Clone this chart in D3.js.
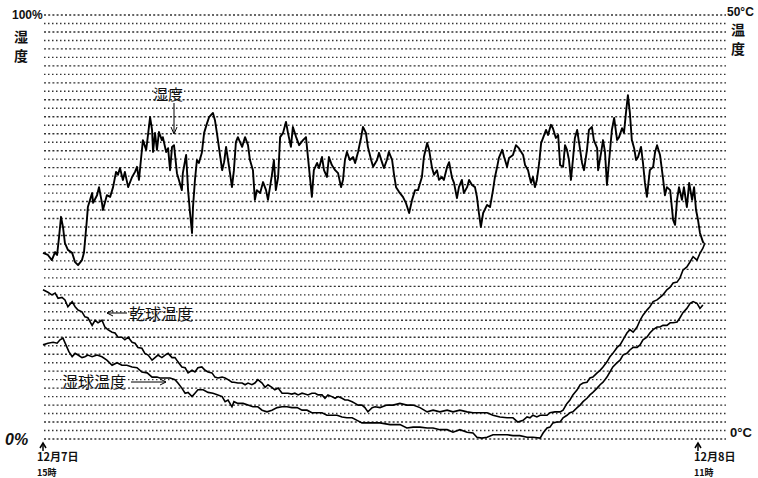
<!DOCTYPE html>
<html>
<head>
<meta charset="utf-8">
<script src="https://cdn.jsdelivr.net/npm/d3@7"></script>
<style>
  body { margin: 0; background: #fff; }
  text { fill: #111; }
  .jp { font-family: "Noto Sans CJK JP", sans-serif; }
  .num { font-family: "Liberation Sans Narrow", "Liberation Sans", sans-serif; font-weight: bold; }
</style>
</head>
<body>
<div id="chart"></div>
<script>
// hours since start (left arrow) and relative humidity in %
const humidity = [
  [0.00,43.9],[0.15,43.4],[0.27,42.2],[0.37,44.1],[0.43,43.4],[0.49,47.6],[0.55,52.4],[0.61,50.0],[0.67,46.2],[0.76,44.6],
  [0.89,43.9],[0.98,41.7],[1.07,41.0],[1.19,42.2],[1.25,43.9],[1.34,51.7],[1.37,54.7],[1.50,58.0],[1.53,55.7],[1.65,57.5],
  [1.71,59.4],[1.80,55.7],[1.83,54.0],[1.95,57.5],[2.05,57.1],[2.14,59.4],[2.23,63.0],[2.29,62.3],[2.35,63.9],[2.44,61.1],
  [2.50,63.0],[2.60,59.4],[2.72,61.8],[2.81,63.0],[2.87,64.2],[2.93,61.1],[2.99,65.8],[3.05,70.5],[3.15,68.2],[3.18,70.0],
  [3.27,75.9],[3.33,72.9],[3.36,67.7],[3.42,72.2],[3.48,68.2],[3.54,72.4],[3.63,70.5],[3.66,71.2],[3.76,67.7],[3.82,68.6],
  [3.88,63.4],[3.94,68.9],[4.00,69.3],[4.09,62.7],[4.15,61.1],[4.24,58.7],[4.27,62.7],[4.37,67.0],[4.43,58.7],[4.49,53.3],
  [4.55,48.6],[4.58,54.7],[4.64,61.1],[4.70,65.8],[4.76,65.1],[4.85,67.5],[4.92,72.2],[5.01,74.5],[5.07,75.9],[5.19,76.9],
  [5.25,75.2],[5.31,72.2],[5.37,68.9],[5.47,63.4],[5.53,65.3],[5.59,68.9],[5.65,65.8],[5.71,62.7],[5.77,59.4],[5.83,63.4],
  [5.89,70.0],[5.95,71.2],[6.08,68.9],[6.17,71.2],[6.26,69.3],[6.32,65.8],[6.41,63.4],[6.47,56.4],[6.53,58.7],[6.63,58.0],
  [6.72,60.6],[6.81,58.7],[6.87,56.4],[6.99,62.3],[7.05,65.8],[7.11,58.7],[7.18,61.8],[7.24,71.2],[7.33,72.2],[7.42,74.8],
  [7.48,72.2],[7.57,68.9],[7.63,73.6],[7.73,71.2],[7.82,69.3],[7.94,70.5],[8.03,71.2],[8.09,66.5],[8.15,61.8],[8.21,57.1],
  [8.27,63.4],[8.37,65.1],[8.43,63.9],[8.52,66.5],[8.58,63.4],[8.67,61.8],[8.73,66.5],[8.82,64.6],[8.92,63.4],[9.01,62.7],
  [9.10,59.4],[9.16,61.1],[9.22,65.8],[9.28,67.7],[9.37,65.8],[9.47,66.5],[9.53,65.1],[9.62,67.7],[9.71,71.0],[9.77,73.6],
  [9.86,72.2],[9.92,68.9],[10.02,65.8],[10.08,64.2],[10.20,65.8],[10.26,67.5],[10.35,65.3],[10.41,63.9],[10.50,65.8],[10.56,67.7],
  [10.66,65.8],[10.72,62.3],[10.78,59.4],[10.87,58.3],[10.99,57.1],[11.08,55.7],[11.18,53.3],[11.27,56.4],[11.36,58.7],[11.45,58.7],
  [11.57,61.8],[11.63,66.5],[11.73,69.8],[11.79,68.2],[11.88,63.9],[11.94,62.3],[12.03,63.4],[12.09,61.1],[12.18,61.8],[12.24,61.1],
  [12.34,64.2],[12.40,65.3],[12.49,61.6],[12.55,60.4],[12.64,56.8],[12.70,59.4],[12.79,61.1],[12.85,58.0],[12.95,59.4],[13.01,61.1],
  [13.10,59.9],[13.19,59.4],[13.25,57.1],[13.31,53.3],[13.37,50.0],[13.44,53.3],[13.56,55.2],[13.65,54.7],[13.74,58.7],[13.80,61.8],
  [13.86,63.9],[13.92,66.3],[14.02,68.2],[14.08,66.5],[14.17,64.2],[14.23,66.3],[14.35,67.0],[14.44,69.3],[14.53,68.6],[14.66,67.0],
  [14.72,64.6],[14.81,63.4],[14.90,60.4],[14.96,61.8],[15.02,59.4],[15.08,61.1],[15.15,65.1],[15.21,69.8],[15.27,71.0],[15.36,72.9],
  [15.42,71.7],[15.51,74.1],[15.57,73.3],[15.66,71.0],[15.73,71.7],[15.79,64.6],[15.88,64.2],[15.94,69.3],[16.00,68.2],[16.06,65.8],
  [16.12,61.1],[16.18,65.8],[16.24,71.0],[16.31,72.9],[16.37,69.8],[16.46,65.1],[16.52,63.4],[16.61,68.2],[16.67,72.9],[16.76,73.6],
  [16.82,70.5],[16.92,68.6],[16.95,63.4],[17.04,67.5],[17.10,70.5],[17.16,67.7],[17.22,59.9],[17.28,65.1],[17.37,72.9],[17.44,75.7],
  [17.53,70.5],[17.59,71.2],[17.68,73.3],[17.74,72.2],[17.80,76.9],[17.86,81.1],[17.92,76.9],[17.98,70.5],[18.05,68.6],[18.11,65.8],
  [18.17,66.5],[18.26,68.9],[18.32,65.1],[18.38,60.4],[18.44,57.1],[18.53,63.4],[18.63,64.2],[18.69,67.7],[18.75,69.3],[18.84,67.0],
  [18.93,61.6],[18.99,57.5],[19.05,59.4],[19.15,58.7],[19.24,51.7],[19.30,50.5],[19.36,56.4],[19.42,59.4],[19.51,56.4],[19.57,59.4],
  [19.66,54.7],[19.73,60.4],[19.82,56.4],[19.88,59.4],[19.94,54.0],[20.00,51.7],[20.06,48.6],[20.15,46.5],[20.18,46.2]
];

// dry bulb temperature, deg C
const dryBulb = [
  [0.00,17.6],[0.15,17.3],[0.27,17.0],[0.37,17.2],[0.46,16.6],[0.58,16.7],[0.67,16.4],[0.76,15.6],[0.89,16.2],[0.98,15.6],
  [1.07,15.2],[1.19,15.0],[1.28,14.4],[1.37,14.3],[1.50,13.4],[1.59,14.0],[1.68,13.7],[1.80,14.0],[1.89,13.2],[1.98,12.9],
  [2.11,12.6],[2.20,12.5],[2.29,12.0],[2.41,12.0],[2.50,11.7],[2.60,12.0],[2.72,11.4],[2.81,11.3],[2.90,10.8],[3.02,10.7],
  [3.11,10.1],[3.21,9.9],[3.33,9.3],[3.42,9.6],[3.51,9.9],[3.63,9.6],[3.73,9.9],[3.82,10.1],[3.94,9.6],[4.03,9.6],
  [4.12,9.1],[4.24,8.5],[4.34,8.4],[4.43,7.8],[4.55,8.1],[4.64,7.9],[4.73,8.4],[4.85,8.5],[4.95,8.1],[5.04,7.9],
  [5.16,7.8],[5.25,7.3],[5.34,7.2],[5.47,7.3],[5.56,7.2],[5.65,7.0],[5.77,6.7],[5.83,6.7],[5.95,6.6],[6.08,6.6],
  [6.17,6.4],[6.26,6.6],[6.38,6.4],[6.47,6.6],[6.56,7.0],[6.69,6.6],[6.78,6.1],[6.87,6.4],[6.99,6.1],[7.08,5.8],
  [7.18,6.0],[7.30,5.4],[7.39,5.4],[7.48,5.4],[7.60,5.3],[7.69,5.4],[7.79,5.2],[7.91,5.4],[8.00,5.3],[8.09,5.2],
  [8.21,5.4],[8.31,5.4],[8.40,5.2],[8.52,5.2],[8.61,4.8],[8.70,5.2],[8.82,5.0],[8.92,4.8],[9.01,5.0],[9.13,4.8],
  [9.22,4.6],[9.31,4.6],[9.44,4.4],[9.53,4.2],[9.62,4.0],[9.74,4.0],[9.83,3.7],[9.92,3.2],[10.05,3.7],[10.14,3.8],
  [10.29,3.7],[10.50,4.0],[10.69,4.0],[10.90,4.2],[11.11,4.0],[11.30,4.0],[11.51,3.7],[11.73,3.2],[11.91,3.4],[12.12,3.2],
  [12.34,3.4],[12.52,3.2],[12.73,3.4],[12.95,3.2],[13.13,3.1],[13.34,3.1],[13.56,3.1],[13.74,2.8],[13.95,2.6],[14.17,2.5],
  [14.35,2.5],[14.50,2.0],[14.66,2.2],[14.78,2.6],[14.87,2.5],[14.96,2.8],[15.08,2.6],[15.18,2.8],[15.27,2.8],[15.39,2.8],
  [15.48,3.1],[15.63,3.2],[15.79,3.2],[15.88,3.4],[16.00,4.2],[16.09,4.6],[16.18,5.2],[16.31,5.8],[16.40,6.4],[16.49,6.6],
  [16.61,6.7],[16.70,7.2],[16.79,7.3],[16.92,7.8],[17.01,8.1],[17.10,8.5],[17.22,9.1],[17.31,9.7],[17.40,10.1],[17.53,10.8],
  [17.62,11.1],[17.71,11.7],[17.83,12.5],[17.92,12.9],[18.02,12.6],[18.14,13.2],[18.23,14.0],[18.32,14.6],[18.44,15.2],[18.53,15.6],
  [18.63,16.2],[18.75,16.4],[18.84,16.7],[18.93,17.0],[19.05,17.6],[19.15,17.9],[19.24,18.4],[19.36,18.5],[19.45,19.0],[19.54,19.9],
  [19.66,20.3],[19.76,20.9],[19.85,21.5],[19.97,21.1],[20.06,21.9],[20.15,22.5],[20.21,23.1]
];

// wet bulb temperature, deg C
const wetBulb = [
  [0.00,11.1],[0.15,11.3],[0.31,11.4],[0.43,11.3],[0.52,11.7],[0.61,11.9],[0.70,11.1],[0.79,10.3],[0.89,9.7],[0.98,10.1],
  [1.07,9.9],[1.19,9.6],[1.28,9.7],[1.37,9.9],[1.50,9.7],[1.65,9.9],[1.80,9.7],[1.95,9.3],[2.11,8.7],[2.26,9.0],
  [2.41,8.7],[2.56,8.7],[2.72,8.5],[2.87,8.4],[3.02,7.9],[3.18,7.8],[3.33,7.3],[3.48,7.3],[3.57,7.2],[3.73,7.2],
  [3.88,7.2],[4.03,7.0],[4.12,6.6],[4.24,6.0],[4.34,5.4],[4.43,5.5],[4.55,5.0],[4.64,5.4],[4.73,5.8],[4.89,5.8],
  [5.04,5.5],[5.19,5.4],[5.34,5.2],[5.47,5.0],[5.56,4.4],[5.65,4.6],[5.77,3.8],[5.83,4.4],[5.95,4.2],[6.11,4.2],
  [6.26,4.0],[6.41,3.8],[6.56,3.8],[6.69,3.4],[6.84,3.2],[6.99,3.4],[7.15,3.7],[7.30,3.8],[7.45,3.8],[7.60,3.7],
  [7.76,3.7],[7.91,3.4],[8.06,3.4],[8.21,3.1],[8.37,3.1],[8.52,3.1],[8.67,2.8],[8.82,2.8],[8.98,2.8],[9.13,2.6],
  [9.28,2.5],[9.44,2.5],[9.59,2.2],[9.74,1.9],[9.89,1.9],[10.08,1.9],[10.29,1.9],[10.60,1.7],[10.90,1.7],[11.11,1.3],
  [11.30,1.4],[11.51,1.4],[11.73,1.3],[11.91,1.3],[12.12,1.1],[12.34,1.1],[12.52,0.8],[12.73,1.1],[12.95,0.8],[13.13,0.7],
  [13.25,0.2],[13.40,0.1],[13.56,0.2],[13.74,0.5],[13.95,0.5],[14.17,0.5],[14.35,0.4],[14.56,0.4],[14.78,0.2],[14.96,0.2],
  [15.18,0.1],[15.27,0.7],[15.39,1.3],[15.48,1.4],[15.57,1.9],[15.69,2.0],[15.79,2.0],[15.88,2.5],[16.00,2.8],[16.09,3.1],
  [16.18,3.2],[16.31,3.7],[16.40,4.0],[16.49,4.4],[16.61,4.8],[16.70,5.2],[16.79,5.5],[16.92,6.0],[17.01,6.4],[17.10,6.7],
  [17.22,7.3],[17.31,7.9],[17.40,8.5],[17.53,9.0],[17.62,9.3],[17.71,9.9],[17.83,10.1],[17.92,10.5],[18.02,10.8],[18.14,10.8],
  [18.23,11.1],[18.32,11.7],[18.44,12.0],[18.53,12.5],[18.63,12.9],[18.75,13.2],[18.84,13.2],[18.93,13.4],[19.05,13.4],[19.15,13.7],
  [19.24,13.7],[19.36,13.8],[19.45,14.3],[19.54,14.9],[19.66,15.4],[19.76,16.0],[19.85,16.2],[19.97,16.0],[20.06,15.4],[20.15,15.8]
];

const tempTicks = d3.range(0, 51); // one dotted line per degree

const width = 758, height = 478;

const svg = d3.select("#chart")
  .append("svg")
    .attr("width", width)
    .attr("height", height);

// x: hours from 12月7日 15時 to 12月8日 11時
const x = d3.scaleLinear().domain([0, 20]).range([43, 698]);
const yHum = d3.scaleLinear().domain([0, 100]).range([439, 15]);
const yTemp = d3.scaleLinear().domain([0, 50]).range([439, 15]);

// dotted grid
svg.append("g")
  .selectAll("line")
  .data(tempTicks)
  .join("line")
    .attr("x1", 44)
    .attr("x2", 726)
    .attr("y1", d => yTemp(d))
    .attr("y2", d => yTemp(d))
    .attr("stroke", "#333")
    .attr("stroke-width", 1.4)
    .attr("stroke-dasharray", (d, i) => i % 2 ? "1.5,2.5" : "2,2.2");

const line = (yScale) => d3.line()
  .x(d => x(d[0]))
  .y(d => yScale(d[1]));

svg.append("path")
  .datum(humidity)
  .attr("fill", "none")
  .attr("stroke", "#000")
  .attr("stroke-width", 1.9)
  .attr("stroke-linejoin", "round")
  .attr("d", line(yHum));

svg.append("path")
  .datum(dryBulb)
  .attr("fill", "none")
  .attr("stroke", "#000")
  .attr("stroke-width", 1.6)
  .attr("d", line(yTemp));

svg.append("path")
  .datum(wetBulb)
  .attr("fill", "none")
  .attr("stroke", "#000")
  .attr("stroke-width", 1.6)
  .attr("d", line(yTemp));

// left axis labels
svg.append("text").attr("class", "num")
  .attr("x", 12).attr("y", yHum(100) + 4)
  .style("font-size", "12px")
  .text("100%");
svg.append("text").attr("class", "jp")
  .attr("x", 14).attr("y", 42)
  .style("font-size", "14px").style("font-weight", "bold")
  .text("湿");
svg.append("text").attr("class", "jp")
  .attr("x", 14).attr("y", 61)
  .style("font-size", "14px").style("font-weight", "bold")
  .text("度");
svg.append("text").attr("class", "num")
  .attr("x", 5).attr("y", yHum(0) + 6)
  .style("font-size", "16px").style("font-style", "italic")
  .text("0%");

// right axis labels
svg.append("text").attr("class", "num")
  .attr("x", 727).attr("y", yTemp(50) + 1)
  .style("font-size", "12px")
  .text("50°C");
svg.append("text").attr("class", "jp")
  .attr("x", 731).attr("y", 35)
  .style("font-size", "14px").style("font-weight", "bold")
  .text("温");
svg.append("text").attr("class", "jp")
  .attr("x", 731).attr("y", 54)
  .style("font-size", "14px").style("font-weight", "bold")
  .text("度");
svg.append("text").attr("class", "num")
  .attr("x", 730).attr("y", yTemp(0) - 2)
  .style("font-size", "13px")
  .text("0°C");

// start / end arrows and time labels
const arrowHead = (g, px, py) => g.append("path")
  .attr("d", `M${px - 3},${py + 5}L${px},${py}L${px + 3},${py + 5}`)
  .attr("fill", "none").attr("stroke", "#000").attr("stroke-width", 1.5);

[0, 20].forEach(t => {
  svg.append("line")
    .attr("x1", x(t)).attr("x2", x(t))
    .attr("y1", 443).attr("y2", 451)
    .attr("stroke", "#000").attr("stroke-width", 1.5);
  arrowHead(svg, x(t), 443);
});

svg.append("text").attr("class", "jp")
  .attr("x", x(0) - 6).attr("y", 461)
  .style("font-size", "11px").style("font-weight", "bold")
  .text("12月7日");
svg.append("text").attr("class", "jp")
  .attr("x", x(0) - 6).attr("y", 475.5)
  .style("font-size", "9px").style("font-weight", "bold")
  .text("15時");
svg.append("text").attr("class", "jp")
  .attr("x", x(20) - 4).attr("y", 461)
  .style("font-size", "11px").style("font-weight", "bold")
  .text("12月8日");
svg.append("text").attr("class", "jp")
  .attr("x", x(20) - 4).attr("y", 475.5)
  .style("font-size", "9px").style("font-weight", "bold")
  .text("11時");

// in-chart annotations
svg.append("text").attr("class", "jp")
  .attr("x", 153).attr("y", 100)
  .style("font-size", "15px")
  .text("湿度");
svg.append("line")
  .attr("x1", 174).attr("x2", 174).attr("y1", 103).attr("y2", 133)
  .attr("stroke", "#000").attr("stroke-width", 1);
svg.append("path")
  .attr("d", "M171,127L174,134L177,127")
  .attr("fill", "none").attr("stroke", "#000").attr("stroke-width", 1);

svg.append("text").attr("class", "jp")
  .attr("x", 129).attr("y", 320)
  .style("font-size", "16px")
  .text("乾球温度");
svg.append("line")
  .attr("x1", 107).attr("x2", 127).attr("y1", 313).attr("y2", 313)
  .attr("stroke", "#000").attr("stroke-width", 1);
svg.append("path")
  .attr("d", "M113,310L107,313L113,316")
  .attr("fill", "none").attr("stroke", "#000").attr("stroke-width", 1);

svg.append("text").attr("class", "jp")
  .attr("x", 62).attr("y", 388)
  .style("font-size", "16px")
  .text("湿球温度");
svg.append("line")
  .attr("x1", 131).attr("x2", 166).attr("y1", 382).attr("y2", 382)
  .attr("stroke", "#000").attr("stroke-width", 1);
svg.append("path")
  .attr("d", "M160,379L166,382L160,385")
  .attr("fill", "none").attr("stroke", "#000").attr("stroke-width", 1);
</script>
</body>
</html>
